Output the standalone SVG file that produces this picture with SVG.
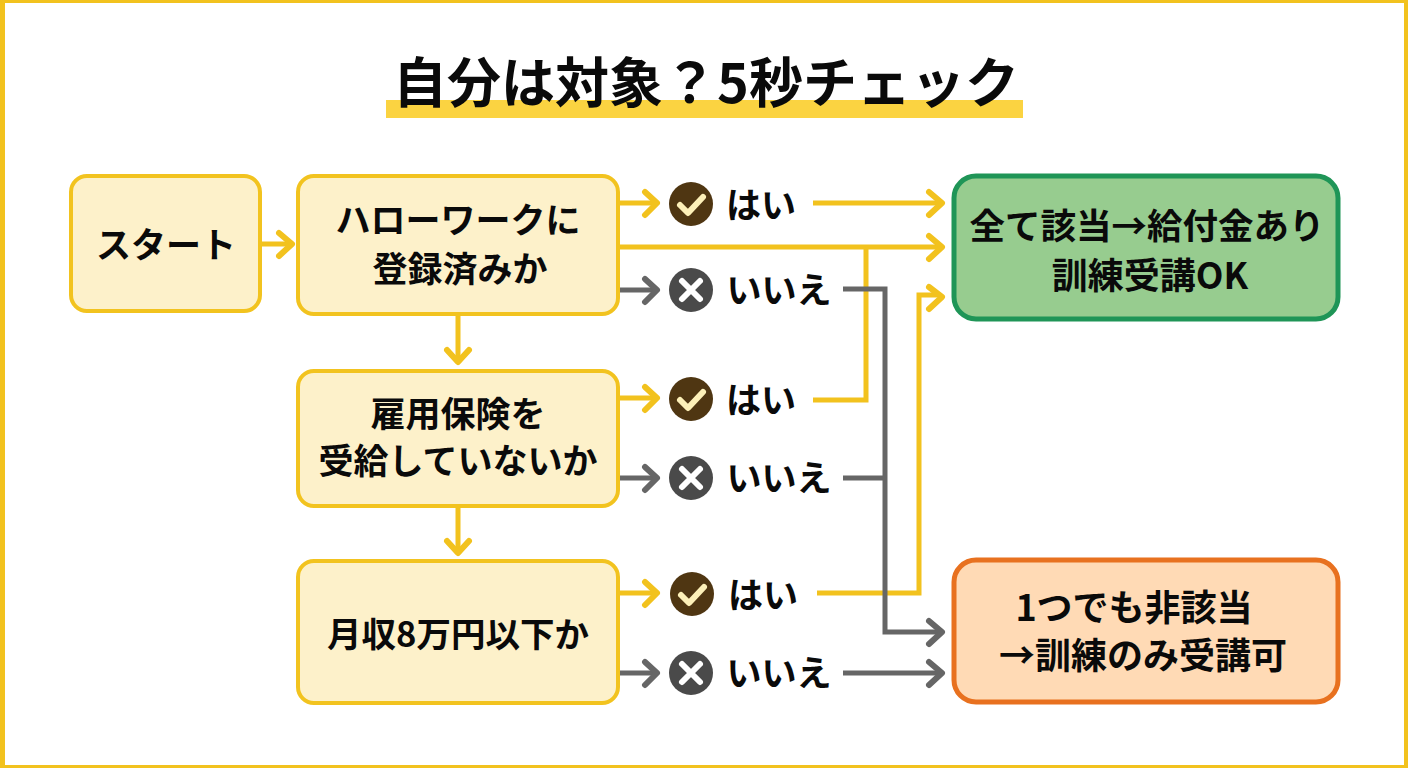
<svg xmlns="http://www.w3.org/2000/svg" width="1408" height="768" viewBox="0 0 1408 768">
<style>
text{font-family:"Noto Sans CJK JP","Noto Sans",sans-serif;font-weight:700;fill:#0a0a0a;text-anchor:middle}
.q{fill:#fdf1ca;stroke:#f2c31f;stroke-width:4}
.t{font-size:35px}
.l{font-size:35px}
.y,.n{fill:none;stroke-width:5}
.y{stroke:#f2c21e}.n{stroke:#666}
.yh,.nh{fill:none;stroke-width:6;stroke-linecap:round;stroke-linejoin:round}
.yh{stroke:#f2c21e}.nh{stroke:#666}
.cy{fill:#4f3612}.cn{fill:#4a4a4a}
.ck{fill:none;stroke:#fdf0b8;stroke-width:6;stroke-linecap:round;stroke-linejoin:round}
.cx{fill:none;stroke:#fff;stroke-width:6;stroke-linecap:round}
</style>
<rect x="1.500" y="1.500" width="1405" height="765" fill="#fff" stroke="#f2c21e" stroke-width="3"/>
<rect x="0" y="0" width="5" height="768" fill="#f2c21e"/>
<rect x="1404" y="0" width="4" height="768" fill="#f2c21e"/>
<g id="title">
<rect x="386" y="100" width="637" height="18" fill="#fbd341"/>
<text x="706" y="103" style="font-size:54px">自分は対象？5秒チェック</text>
</g>
<g id="connectors">
<path class="y" d="M261 244H290M618 203H654M618 398H654M618 593H654M813 203H940M618 247H940M813 400H866V247M817 593H919V295H940M458 315V360M458 506V551"/>
<path class="n" d="M618 290H654M618 478H654M618 673H654M843 289H885V632H940M843 478H885M843 673H940"/>
<path class="yh" d="M279 233L292 244L279 256M645 192L657 203L645 215M645 387L657 398L645 410M645 582L657 593L645 605M929 192L942 203L929 215M929 236L942 247L929 259M929 287L942 297L929 309M447 350L458 362L469 350M447 541L458 553L469 541"/>
<path class="nh" d="M645 279L657 290L645 302M645 467L657 478L645 490M645 662L657 673L645 685M929 621L942 632L929 644M929 662L942 673L929 685"/>
</g>
<g id="start"><rect class="q" x="71" y="176" width="189" height="135" rx="16"/><text class="t" x="166" y="258">スタート</text></g>
<g id="q1"><rect class="q" x="298" y="176" width="320" height="138" rx="16"/><text class="t" x="458" y="233">ハローワークに</text><text class="t" x="460" y="282">登録済みか</text></g>
<g id="q2"><rect class="q" x="298" y="371" width="320" height="135" rx="16"/><text class="t" x="458" y="427">雇用保険を</text><text class="t" x="458" y="474">受給していないか</text></g>
<g id="q3"><rect class="q" x="298" y="561" width="320" height="142" rx="16"/><text class="t" x="458" y="647" style="font-size:34.500px">月収8万円以下か</text></g>
<g id="result-ok"><rect x="954" y="176" width="384" height="143" rx="22" fill="#97cc8f" stroke="#1f9557" stroke-width="5"/><text x="1147" y="239" style="font-size:35.500px">全て該当→給付金あり</text><text x="1150" y="289" style="font-size:36px">訓練受講OK</text></g>
<g id="result-ng"><rect x="954" y="560" width="384" height="142" rx="22" fill="#ffdab5" stroke="#e8711f" stroke-width="5"/><text x="1134" y="621" style="font-size:36px">1つでも非該当</text><text x="1143" y="669" style="font-size:36px">→訓練のみ受講可</text></g>
<g id="yes1"><circle class="cy" cx="691" cy="204" r="22"/><path class="ck" d="M680 205L688 213L703 197"/><text class="l" x="761" y="218">はい</text></g>
<g id="no1"><circle class="cn" cx="691" cy="290" r="22"/><path class="cx" d="M682 281L700 299M700 281L682 299"/><text class="l" x="779" y="303">いいえ</text></g>
<g id="yes2"><circle class="cy" cx="691" cy="399" r="22"/><path class="ck" d="M680 400L688 408L703 392"/><text class="l" x="761" y="413">はい</text></g>
<g id="no2"><circle class="cn" cx="691" cy="478" r="22"/><path class="cx" d="M682 469L700 487M700 469L682 487"/><text class="l" x="779" y="491">いいえ</text></g>
<g id="yes3"><circle class="cy" cx="692" cy="594" r="22"/><path class="ck" d="M681 595L689 603L704 587"/><text class="l" x="763" y="608">はい</text></g>
<g id="no3"><circle class="cn" cx="691" cy="673" r="22"/><path class="cx" d="M682 664L700 682M700 664L682 682"/><text class="l" x="779" y="686">いいえ</text></g>
</svg>
